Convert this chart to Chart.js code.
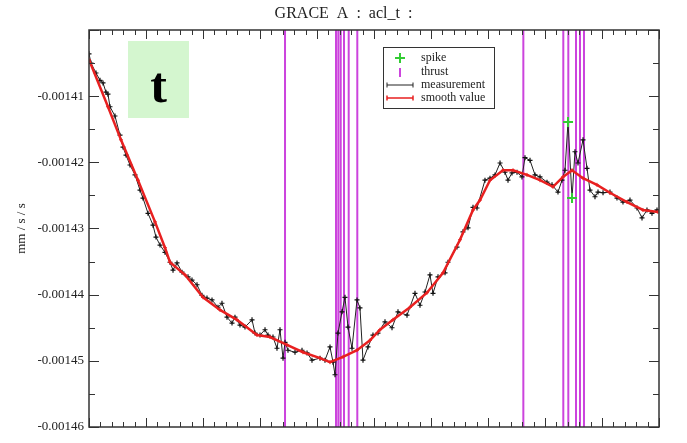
<!DOCTYPE html>
<html>
<head>
<meta charset="utf-8">
<script src="https://cdn.jsdelivr.net/npm/chart.js@4.4.1/dist/chart.umd.min.js"></script>
<style>
  body { margin: 0; background: #fff; }
  #wrap { position: relative; width: 687px; height: 443px; }
  #tbox {
    position: absolute; left: 128px; top: 41px; width: 61px; height: 77px;
    box-sizing: border-box; padding-top: 15px;
    background: #d4f6cf; color: #000; text-align: center; line-height: 52px;
    font: bold 50px "Liberation Serif", serif;
  }
</style>
</head>
<body>
<div id="wrap">
  <canvas id="chart" width="687" height="443"></canvas>
  <div id="tbox">t</div>
</div>
<script>
// axis range
const xMin = 0, xMax = 10;
const yMin = -0.00146, yMax = -0.0014;

// measurement (black)
const measX = [0.000, 0.035, 0.123, 0.193, 0.246, 0.298, 0.333, 0.368, 0.456, 0.544,
  0.596, 0.649, 0.719, 0.807, 0.895, 0.947, 1.035, 1.123, 1.175, 1.246,
  1.333, 1.421, 1.474, 1.544, 1.632, 1.737, 1.807, 1.895, 1.982, 2.070,
  2.158, 2.263, 2.333, 2.421, 2.509, 2.561, 2.649, 2.737, 2.860, 2.912,
  3.000, 3.088, 3.140, 3.228, 3.298, 3.351, 3.404, 3.439, 3.491, 3.614,
  3.737, 3.825, 3.912, 4.053, 4.140, 4.228, 4.281, 4.316, 4.368, 4.439,
  4.491, 4.544, 4.614, 4.702, 4.754, 4.807, 4.895, 4.982, 5.070, 5.193,
  5.316, 5.421, 5.579, 5.719, 5.807, 5.895, 5.982, 6.035, 6.123, 6.246,
  6.298, 6.456, 6.561, 6.649, 6.737, 6.807, 6.947, 7.035, 7.123, 7.211,
  7.298, 7.351, 7.421, 7.509, 7.596, 7.649, 7.737, 7.825, 7.912, 8.035,
  8.123, 8.228, 8.298, 8.351, 8.404, 8.474, 8.526, 8.579, 8.667, 8.737,
  8.789, 8.877, 8.930, 9.018, 9.140, 9.263, 9.368, 9.491, 9.614, 9.702,
  9.789, 9.877, 9.965];
const measY = [-0.0014036, -0.0014050, -0.0014065, -0.0014076, -0.0014080, -0.0014094, -0.0014097, -0.0014116, -0.0014130, -0.0014159,
  -0.0014177, -0.0014189, -0.0014204, -0.0014219, -0.0014242, -0.0014254, -0.0014277, -0.0014295, -0.0014313, -0.0014325,
  -0.0014336, -0.0014351, -0.0014363, -0.0014352, -0.0014366, -0.0014373, -0.0014378, -0.0014385, -0.0014401, -0.0014405,
  -0.0014408, -0.0014419, -0.0014413, -0.0014434, -0.0014443, -0.0014434, -0.0014446, -0.0014449, -0.0014438, -0.0014458,
  -0.0014461, -0.0014453, -0.0014461, -0.0014464, -0.0014481, -0.0014453, -0.0014496, -0.0014472, -0.0014484, -0.0014487,
  -0.0014484, -0.0014488, -0.0014499, -0.0014496, -0.0014499, -0.0014479, -0.0014502, -0.0014521, -0.0014458, -0.0014426,
  -0.0014404, -0.0014449, -0.0014481, -0.0014408, -0.0014420, -0.0014499, -0.0014479, -0.0014461, -0.0014458, -0.0014441,
  -0.0014450, -0.0014426, -0.0014431, -0.0014398, -0.0014416, -0.0014396, -0.0014370, -0.0014398, -0.0014373, -0.0014367,
  -0.0014351, -0.0014328, -0.0014305, -0.0014299, -0.0014268, -0.0014269, -0.0014227, -0.0014224, -0.0014219, -0.0014201,
  -0.0014215, -0.0014227, -0.0014216, -0.0014215, -0.0014222, -0.0014193, -0.0014197, -0.0014219, -0.0014222, -0.0014230,
  -0.0014234, -0.0014245, -0.0014227, -0.0014212, -0.0014139, -0.0014254, -0.0014184, -0.0014201, -0.0014166, -0.0014209,
  -0.0014242, -0.0014252, -0.0014245, -0.0014246, -0.0014245, -0.0014254, -0.0014260, -0.0014257, -0.0014269, -0.0014284,
  -0.0014272, -0.0014277, -0.0014272];

// smooth value (red)
const smoothX = [0.000, 0.333, 0.561, 0.860, 1.158, 1.333, 1.421, 1.684, 2.000, 2.298,
  2.596, 2.947, 3.175, 3.474, 3.754, 4.053, 4.228, 4.456, 4.702, 4.930,
  5.105, 5.333, 5.632, 5.930, 6.211, 6.509, 6.737, 6.860, 7.035, 7.263,
  7.439, 7.684, 7.912, 8.140, 8.316, 8.474, 8.667, 8.912, 9.140, 9.439,
  9.719, 9.982];
const smoothY = [-0.0014045, -0.0014116, -0.0014166, -0.0014227, -0.0014290, -0.0014329, -0.0014351, -0.0014370, -0.0014404, -0.0014423,
  -0.0014438, -0.0014461, -0.0014464, -0.0014476, -0.0014487, -0.0014496, -0.0014502, -0.0014494, -0.0014484, -0.0014469,
  -0.0014453, -0.0014438, -0.0014419, -0.0014397, -0.0014367, -0.0014317, -0.0014272, -0.0014257, -0.0014227, -0.0014212,
  -0.0014212, -0.0014219, -0.0014227, -0.0014237, -0.0014222, -0.0014212, -0.0014224, -0.0014234, -0.0014246, -0.0014260,
  -0.0014272, -0.0014275];

// thrust events (vertical lines)
const thrustX = [3.439, 4.333, 4.374, 4.416, 4.474, 4.556, 4.707, 7.620, 8.321, 8.409, 8.544, 8.614, 8.684];

// spikes (green)
const spikeX = [8.404, 8.474];
const spikeY = [-0.0014139, -0.0014254];

const serif = 'Liberation Serif';
const thrustColor = '#cc44dd';

const thrustData = [];
thrustX.forEach(t => {
  thrustData.push({x: t, y: yMax}, {x: t, y: yMin}, {x: t, y: null});
});

const framePlugin = {
  id: 'frame',
  afterDatasetsDraw(chart) {
    const {ctx, chartArea: a, scales: {x, y}} = chart;
    ctx.save();
    ctx.strokeStyle = '#333';
    ctx.lineWidth = 1;
    ctx.beginPath();
    for (let i = 0; i <= 50; i++) {
      const px = Math.round(x.getPixelForValue(xMin + i * 0.2)) + 0.5;
      const len = i % 5 === 0 ? 9 : 5;
      ctx.moveTo(px, a.bottom); ctx.lineTo(px, a.bottom - len);
      ctx.moveTo(px, a.top); ctx.lineTo(px, a.top + len);
    }
    for (let i = 0; i <= 12; i++) {
      const py = Math.round(y.getPixelForValue(yMin + i * 0.000005)) + 0.5;
      const len = i % 2 === 0 ? 10 : 6;
      ctx.moveTo(a.left, py); ctx.lineTo(a.left + len, py);
      ctx.moveTo(a.right, py); ctx.lineTo(a.right - len, py);
    }
    ctx.stroke();
    ctx.lineWidth = 1.5;
    ctx.strokeRect(a.left, a.top, a.right - a.left, a.bottom - a.top);
    ctx.restore();
  },
  afterDraw(chart) {
    const ctx = chart.ctx;
    ctx.save();
    ctx.fillStyle = '#fff';
    ctx.fillRect(383, 47, 111, 61);
    ctx.strokeStyle = '#333';
    ctx.lineWidth = 1;
    ctx.strokeRect(383.5, 47.5, 111, 61);
    ctx.font = '12px "' + serif + '"';
    ctx.fillStyle = '#222';
    ctx.textBaseline = 'middle';
    const rows = ['spike', 'thrust', 'measurement', 'smooth value'];
    const ys = [58, 72, 85, 98];
    rows.forEach((r, i) => ctx.fillText(r, 421, ys[i]));
    // spike
    ctx.strokeStyle = '#33cc33';
    ctx.lineWidth = 2;
    ctx.beginPath();
    ctx.moveTo(395, 58); ctx.lineTo(405, 58);
    ctx.moveTo(400, 53); ctx.lineTo(400, 63);
    ctx.stroke();
    // thrust
    ctx.strokeStyle = thrustColor;
    ctx.beginPath();
    ctx.moveTo(400, 68); ctx.lineTo(400, 77);
    ctx.stroke();
    // measurement / smooth
    [['#222', 85], ['#e82020', 98]].forEach(([c, yy]) => {
      ctx.strokeStyle = c;
      ctx.lineWidth = c === '#222' ? 1 : 1.5;
      ctx.beginPath();
      ctx.moveTo(387, yy); ctx.lineTo(413, yy);
      [387, 413].forEach(xx => {
        ctx.moveTo(xx, yy - 2.5); ctx.lineTo(xx, yy + 2.5);
      });
      ctx.stroke();
    });
    ctx.restore();
  }
};

new Chart(document.getElementById('chart'), {
  type: 'line',
  data: {
    datasets: [
      {
        label: 'spike',
        data: spikeX.map((v, i) => ({x: v, y: spikeY[i]})),
        showLine: false,
        pointStyle: 'cross', pointRadius: 5, pointBorderWidth: 2,
        borderColor: '#33cc33', backgroundColor: '#33cc33'
      },
      {
        label: 'smooth value',
        data: smoothX.map((v, i) => ({x: v, y: smoothY[i]})),
        borderColor: '#e82020', borderWidth: 2.5,
        pointStyle: 'cross', pointRadius: 2, pointBorderWidth: 1,
        pointBorderColor: '#e82020'
      },
      {
        label: 'measurement',
        data: measX.map((v, i) => ({x: v, y: measY[i]})),
        borderColor: '#222', borderWidth: 1,
        pointStyle: 'cross', pointRadius: 2.5, pointBorderWidth: 1.2,
        pointBorderColor: '#111'
      },
      {
        label: 'thrust',
        data: thrustData,
        borderColor: thrustColor, borderWidth: 2,
        pointRadius: 0, spanGaps: false
      }
    ]
  },
  options: {
    responsive: false,
    animation: false,
    layout: {padding: 0},
    plugins: {
      legend: {display: false},
      tooltip: {enabled: false},
      title: {
        display: true,
        text: 'GRACE  A  :  acl_t  :',
        color: '#222',
        font: {family: serif, size: 16, weight: 'normal', lineHeight: 1.1},
        padding: {top: 5, bottom: 7.4}
      }
    },
    scales: {
      x: {
        type: 'linear', min: xMin, max: xMax,
        ticks: {display: false},
        grid: {display: false, drawTicks: false},
        border: {display: false},
        afterFit(s) { s.height = 16; }
      },
      y: {
        min: yMin, max: yMax,
        ticks: {
          stepSize: 0.00001,
          color: '#222',
          padding: 5,
          font: {family: serif, size: 13},
          callback: (v, i, t) => i === t.length - 1 ? '' : v.toFixed(5)
        },
        grid: {display: false, drawTicks: false},
        border: {display: false},
        title: {
          display: true, text: 'mm / s / s', color: '#222',
          font: {family: serif, size: 13},
          padding: {top: 14, bottom: 0}
        },
        afterFit(s) { s.width = 89; }
      },
      yRight: {
        position: 'right', min: yMin, max: yMax,
        ticks: {display: false},
        grid: {display: false, drawTicks: false},
        border: {display: false},
        afterFit(s) { s.width = 28; }
      }
    }
  },
  plugins: [framePlugin]
});
</script>
</body>
</html>
